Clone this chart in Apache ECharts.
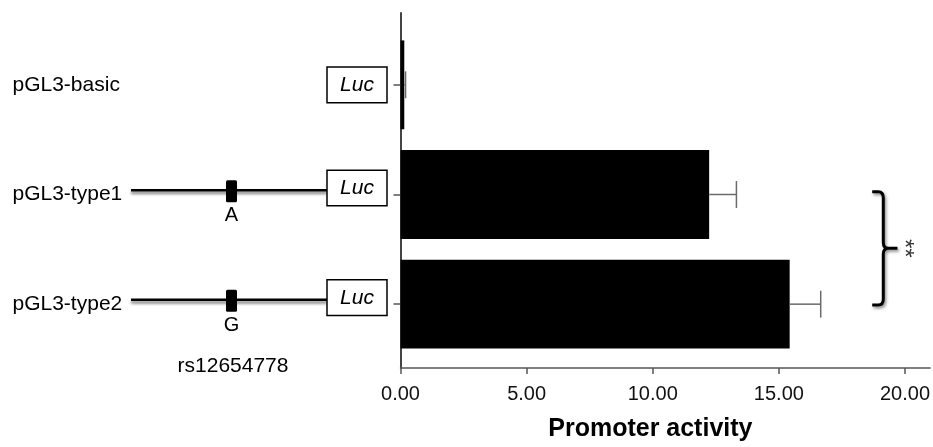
<!DOCTYPE html>
<html>
<head>
<meta charset="utf-8">
<script src="https://cdn.jsdelivr.net/npm/echarts@6/dist/echarts.min.js"></script>
<style>
html,body{margin:0;padding:0;background:#fff;}
#c{width:933px;height:447px;}
</style>
</head>
<body>
<div id="c"></div>
<script>
// ---- data ----
const categories = ['pGL3-basic', 'pGL3-type1', 'pGL3-type2'];
const activity = [0.15, 12.23, 15.42];
const errors = [0.05, 1.08, 1.23];
const alleles = ['', 'A', 'G'];
const snpName = 'rs12654778';
const xTicks = [0, 5, 10, 15, 20];
const comparePair = [1, 2];
const significance = '**';
const axisTitle = 'Promoter activity';

const FONT = '"Liberation Sans", Arial, Helvetica, sans-serif';
const chart = echarts.init(document.getElementById('c'), null, {renderer: 'canvas'});
const GL = 400.5, GW = 530;
const axisColor = '#555';

const option = {
  animation: false,
  backgroundColor: '#fff',
  textStyle: {fontFamily: FONT},
  grid: [
    {left: GL, top: 13, width: GW, height: 363},
    {left: GL, top: 30, width: GW, height: 329}
  ],
  xAxis: [
    {
      type: 'value', gridIndex: 0, min: 0, max: 21,
      axisLine: {show: true, onZero: false, lineStyle: {color: axisColor, width: 1.5}},
      axisTick: {show: true, customValues: xTicks, length: 6, lineStyle: {color: axisColor, width: 1.5}},
      axisLabel: {customValues: xTicks, formatter: v => Number(v).toFixed(2), fontSize: 20, color: '#111', margin: 16, fontFamily: FONT},
      splitLine: {show: false},
      name: axisTitle, nameLocation: 'middle', nameGap: 49,
      nameTextStyle: {fontSize: 25, fontWeight: 'bold', color: '#000', fontFamily: FONT, padding: [0, 30, 0, 0]}
    },
    {type: 'value', gridIndex: 1, min: 0, max: 21, show: false}
  ],
  yAxis: [
    {
      type: 'value', gridIndex: 0, min: 0, max: 1,
      axisLine: {show: true, onZero: false, lineStyle: {color: '#444', width: 2}},
      axisTick: {show: false}, axisLabel: {show: false}, splitLine: {show: false}
    },
    {
      type: 'category', gridIndex: 1, data: categories, inverse: true,
      axisLine: {show: false},
      axisTick: {show: true, alignWithLabel: true, length: 7, lineStyle: {color: axisColor, width: 1.5}},
      axisLabel: {align: 'left', margin: 388, fontSize: 21, color: '#000', fontFamily: FONT, padding: [0, 0, 6, 0]},
      splitLine: {show: false}
    }
  ],
  series: [
    {
      type: 'bar', xAxisIndex: 1, yAxisIndex: 1,
      data: activity, barWidth: '81%',
      itemStyle: {color: '#000'}, z: 3, silent: true
    },
    {
      // error bars
      type: 'custom', xAxisIndex: 1, yAxisIndex: 1, clip: false, z: 4, silent: true,
      data: activity.map((v, i) => [v, i, errors[i]]),
      encode: {x: 0, y: 1},
      renderItem(params, api) {
        const v = api.value(0), i = api.value(1), e = api.value(2);
        const p0 = api.coord([v, i]), p1 = api.coord([v + e, i]);
        const h = api.size([0, 1])[1] * 0.245 / 2;
        const st = {stroke: '#6a6a6a', lineWidth: 1.5};
        return {type: 'group', children: [
          {type: 'line', shape: {x1: p0[0], y1: p0[1], x2: p1[0], y2: p1[1]}, style: st},
          {type: 'line', shape: {x1: p1[0], y1: p1[1] - h, x2: p1[0], y2: p1[1] + h}, style: st}
        ]};
      }
    },
    {
      // construct diagrams on the left
      type: 'custom', xAxisIndex: 1, yAxisIndex: 1, clip: false, z: 5, silent: true,
      data: categories.map((c, i) => [0, i]),
      encode: {x: 0, y: 1},
      renderItem(params, api) {
        const i = api.value(1);
        const y = api.coord([0, i])[1];
        const allele = alleles[i];
        const children = [];
        const boxDy = allele ? -6.5 : 0;
        if (allele) {
          const ly = y - 4.3;
          children.push({type: 'line', shape: {x1: 131, y1: ly, x2: 327, y2: ly},
            style: {stroke: '#000', lineWidth: 2.5, shadowColor: 'rgba(0,0,0,0.55)', shadowBlur: 3, shadowOffsetY: 2.5}});
          children.push({type: 'rect', shape: {x: 226, y: ly - 10, width: 11, height: 22, r: 1.5}, style: {fill: '#000'}});
          children.push({type: 'text', style: {text: allele, x: 231.5, y: ly + 25.5, align: 'center', verticalAlign: 'middle', font: '20px ' + FONT, fill: '#000'}});
        }
        const by = y + boxDy;
        children.push({type: 'rect', shape: {x: 327, y: by - 17.8, width: 60, height: 35.6},
          style: {fill: '#fff', stroke: '#000', lineWidth: 1.5}});
        children.push({type: 'text', style: {text: 'Luc', x: 357, y: by, align: 'center', verticalAlign: 'middle', font: 'italic 21px ' + FONT, fill: '#000'}});
        if (i === categories.length - 1) {
          children.push({type: 'text', style: {text: snpName, x: 233, y: y + 61.6, align: 'center', verticalAlign: 'middle', font: '21px ' + FONT, fill: '#000'}});
        }
        return {type: 'group', children};
      }
    },
    {
      // significance bracket
      type: 'custom', xAxisIndex: 1, yAxisIndex: 1, clip: false, z: 5, silent: true,
      data: [comparePair],
      encode: {x: 0, y: 1},
      renderItem(params, api) {
        const a = api.value(0), b = api.value(1);
        const yT = api.coord([0, a])[1] - 2.8;
        const yB = api.coord([0, b])[1] + 0.8;
        const yM = (yT + yB) / 2;
        const x0 = api.coord([18.69, a])[0];
        const xv = api.coord([19.13, a])[0];
        const xn = api.coord([19.69, a])[0];
        const xs = api.coord([20.13, a])[0];
        const fs = 24;
        const d = `M${x0} ${yT} L${xv - 5} ${yT} Q${xv} ${yT} ${xv} ${yT + 6} L${xv} ${yM - 6} Q${xv} ${yM} ${xv + 5} ${yM} L${xn} ${yM} M${xv + 5} ${yM} Q${xv} ${yM} ${xv} ${yM + 6} L${xv} ${yB - 6} Q${xv} ${yB} ${xv - 5} ${yB} L${x0} ${yB}`;
        return {type: 'group', children: [
          {type: 'path', shape: {pathData: d},
            style: {fill: null, stroke: '#000', lineWidth: 3, lineJoin: 'round', shadowColor: 'rgba(0,0,0,0.45)', shadowBlur: 3, shadowOffsetX: 1.5, shadowOffsetY: 2}},
          {type: 'text', x: xs - 0.22 * fs, y: yM, rotation: -Math.PI / 2,
            style: {text: significance, x: 0, y: 0, align: 'center', verticalAlign: 'middle', font: fs + 'px ' + FONT, fill: '#333'}}
        ]};
      }
    }
  ]
};
chart.setOption(option);
</script>
</body>
</html>
